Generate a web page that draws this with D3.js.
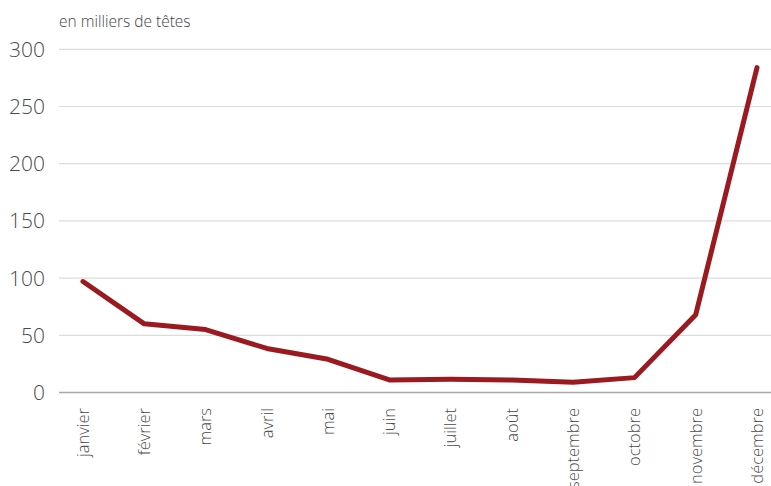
<!DOCTYPE html>
<html><head><meta charset="utf-8">
<script src="https://cdn.jsdelivr.net/npm/d3@7"></script>
<style>body{margin:0;background:#fff}svg{display:block}text{font-family:"Open Sans",sans-serif;font-weight:300}</style>
</head><body><svg id="c" width="771" height="486"></svg>
<script>
const months = ["janvier","février","mars","avril","mai","juin","juillet","août","septembre","octobre","novembre","décembre"];
const values = [97, 60, 55, 38.5, 29, 11, 11.5, 11, 9, 13, 68, 284];
const yTicks = [0, 50, 100, 150, 200, 250, 300];
const unitLabel = "en milliers de têtes";

const svg = d3.select("#c");
const x = d3.scalePoint().domain(months).range([83, 757]);
const y = d3.scaleLinear().domain([0, 300]).range([392.5, 49.3]);
const gridLeft = 59, gridRight = 771;

svg.append("g").selectAll("line").data(yTicks.filter(d => d > 0)).join("line")
  .attr("x1", gridLeft).attr("x2", gridRight)
  .attr("y1", d => y(d)).attr("y2", d => y(d))
  .attr("stroke", "#dcdcdc").attr("stroke-width", 1.2);
svg.append("line").attr("x1", gridLeft).attr("x2", gridRight)
  .attr("y1", y(0)).attr("y2", y(0)).attr("stroke", "#a8a8a8").attr("stroke-width", 1.3);

svg.append("g").selectAll("text").data(yTicks).join("text")
  .attr("x", 45).attr("y", d => y(d)).attr("dy", "0.36em")
  .attr("text-anchor", "end").attr("font-size", 21).attr("fill", "#4a4a4a")
  .text(d => d);

svg.append("text").attr("x", 59).attr("y", 27).attr("font-size", 15.5).attr("fill", "#444").text(unitLabel);

svg.append("g").selectAll("text").data(months).join("text")
  .attr("transform", d => `translate(${x(d)},408) rotate(-90)`)
  .attr("dy", "0.35em").attr("text-anchor", "end")
  .attr("font-size", 16.5).attr("fill", "#4a4a4a").text(d => d);

svg.append("path").datum(values)
  .attr("d", d3.line().x((d, i) => x(months[i])).y(d => y(d)))
  .attr("fill", "none").attr("stroke", "#9b1a20").attr("stroke-width", 5)
  .attr("stroke-linecap", "round").attr("stroke-linejoin", "round");
</script></body></html>
